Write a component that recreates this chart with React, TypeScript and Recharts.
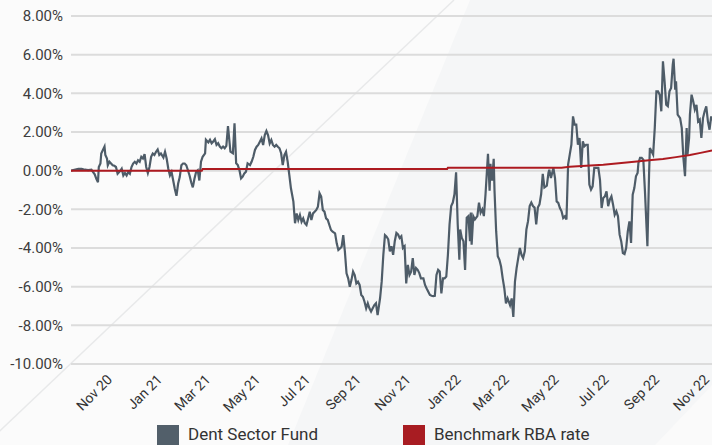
import { CartesianGrid, Line, LineChart, XAxis, YAxis } from "recharts";

// day 0 = 11 Sep 2020, values are cumulative % return
const START = Date.UTC(2020, 8, 11);
const DAY_MS = 86400000;
const LAST_DAY = 784;

const FUND_DAYS = [
  0, 4, 9, 13, 17, 21, 25, 27, 29, 31, 33, 34, 36, 37, 39, 41, 42, 44, 45, 47, 49, 51, 53, 55, 57, 60, 62, 64, 66, 68,
  70, 72, 74, 76, 78, 80, 82, 84, 86, 88, 90, 92, 94, 96, 98, 100, 102, 104, 106, 108, 110, 113, 115, 117, 119, 121,
  123, 125, 127, 129, 131, 133, 135, 137, 139, 141, 143, 145, 147, 149, 151, 153, 155, 157, 159, 161, 164, 165, 168,
  170, 172, 174, 176, 178, 180, 182, 184, 186, 188, 190, 192, 195, 198, 200, 202, 204, 206, 208, 210, 212, 214, 216,
  219, 221, 223, 225, 227, 229, 231, 233, 235, 237, 239, 241, 243, 245, 247, 249, 251, 253, 255, 257, 259, 261, 263,
  265, 267, 269, 272, 274, 276, 278, 280, 282, 284, 286, 288, 290, 292, 294, 296, 298, 300, 302, 304, 306, 308, 310,
  312, 314, 316, 318, 320, 323, 325, 327, 329, 331, 333, 335, 337, 339, 341, 343, 345, 347, 349, 351, 353, 355, 357,
  359, 361, 363, 365, 367, 369, 371, 373, 375, 378, 380, 382, 384, 386, 388, 390, 392, 394, 396, 398, 400, 402, 404,
  406, 408, 410, 412, 414, 416, 418, 420, 422, 424, 426, 428, 431, 433, 435, 437, 439, 441, 443, 445, 447, 449, 451,
  453, 455, 457, 459, 461, 463, 465, 467, 469, 471, 473, 475, 476, 478, 480, 482, 484, 486, 488, 489, 490, 492, 494,
  497, 499, 501, 503, 505, 507, 509, 510, 512, 513, 515, 517, 518, 520, 522, 524, 526, 528, 530, 532, 534, 537, 539,
  541, 543, 545, 547, 549, 551, 553, 555, 557, 559, 561, 563, 565, 567, 569, 571, 573, 575, 577, 579, 582, 584, 585,
  587, 590, 592, 594, 596, 598, 600, 602, 604, 606, 608, 610, 612, 614, 616, 618, 620, 622, 624, 626, 628, 630, 632,
  634, 636, 638, 640, 642, 645, 647, 649, 651, 653, 655, 657, 659, 661, 663, 665, 667, 669, 671, 673, 675, 677, 679,
  681, 683, 685, 687, 689, 691, 693, 694, 696, 698, 700, 702, 704, 705, 707, 708, 710, 712, 714, 716, 718, 720, 722,
  724, 726, 728, 730, 732, 734, 736, 737, 739, 740, 742, 745, 747, 749, 751, 753, 754, 756, 757, 759, 761, 763, 765,
  767, 769, 771, 773, 775, 777, 779, 781, 783, 784,
];

const FUND = [
  0, 0.05, 0.09, 0.09, 0.05, 0.03, 0.05, -0.07, -0.19, -0.42, -0.6, 0.19, 0.37, 0.89, 1.07, 1.25, 0.81, 0.63, 0.28,
  0.46, 0.37, 0.28, 0.25, 0.19, -0.16, -0.02, 0.1, -0.25, -0.12, -0.25, -0.07, -0.16, 0.19, 0.37, 0.46, 0.37, 0.54,
  0.46, 0.72, 0.63, 0.86, 0.19, -0.12, 0.19, 0.72, 0.89, 0.81, 0.98, 1.1, 0.81, 0.89, 0.68, 0.98, 0.63, 0.1, -0.25,
  -0.07, -0.51, -0.95, -1.3, -0.68, -0.33, 0.28, 0.37, 0.37, 0.28, 0.02, -0.25, -0.6, -0.86, -0.42, -0.07, 0.02, -0.51,
  0.46, 0.72, 0.89, 1.6, 1.46, 1.6, 1.42, 1.51, 1.63, 1.33, 1.42, 1.25, 1.16, 1.25, 1.16, 1.28, 2.3, 0.98, 0.9, 2.45,
  0.38, 0.29, 0.03, -0.4, -0.31, -0.14, -0.05, 0.38, 0.29, 0.47, 0.72, 1.07, 1.24, 1.33, 1.5, 1.67, 1.33, 1.84, 2.05,
  1.84, 1.41, 1.59, 1.33, 1.24, 1.33, 1.24, 1.16, 0.9, 0.29, 0.81, 0.98, 0.47, -0.22, -0.91, -1.6, -2.72, -2.21, -2.55,
  -2.29, -2.64, -2.47, -2.72, -2.81, -2.47, -2.12, -2.55, -2.21, -2.12, -2.03, -1.86, -1.17, -1.34, -2.03, -2.12,
  -2.47, -2.55, -2.81, -3.07, -3.16, -3.24, -3.76, -4.1, -4.02, -3.93, -3.33, -4.19, -5.31, -5.57, -6.0, -5.66, -5.22,
  -5.4, -5.83, -5.74, -5.91, -6.43, -6.52, -6.78, -7.12, -6.86, -7.12, -7.29, -7.12, -6.95, -6.86, -7.47, -6.6, -5.74,
  -4.36, -3.33, -3.41, -3.55, -4.17, -3.91, -4.35, -3.65, -3.22, -3.3, -3.48, -3.39, -4.0, -3.91, -5.83, -4.87, -5.39,
  -5.22, -4.52, -5.39, -5.04, -5.13, -5.3, -5.57, -5.57, -5.91, -6.09, -6.26, -6.43, -6.47, -6.49, -6.47, -5.39,
  -5.13, -5.22, -6.35, -5.57, -5.57, -5.48, -4.35, -2.78, -1.83, -1.65, -1.22, -0.09, -2.78, -4.61, -3.04, -3.48,
  -3.65, -5.13, -2.43, -2.35, -3.65, -2.17, -3.83, -2.35, -2.52, -2.35, -1.65, -2.17, -2.0, -2.35, -1.22, 0.17, 0.87,
  -1.04, 0.35, -0.52, 0.61, -1.04, -3.13, -4.43, -4.61, -4.96, -5.57, -6.09, -6.87, -6.61, -6.96, -6.61, -7.57, -5.74,
  -5.04, -4.52, -4.0, -4.35, -4.52, -4.17, -3.04, -2.61, -1.83, -1.65, -1.83, -1.91, -2.78, -1.91, -1.74, -1.22,
  -0.17, -0.87, -0.78, -0.1, 0.05, -0.38, 0.14, -0.38, -1.59, -1.67, -1.93, -2.1, -2.45, -2.36, -2.53, 0.31, 0.83,
  1.34, 2.81, 2.38, 2.38, 1.34, 1.69, 0.14, 1.52, 1.26, 1.34, 1.34, -0.72, -0.98, -0.81, 0.14, 0.14, 0.14, -0.47,
  -1.93, -1.41, -1.33, -1.07, -1.84, -1.5, -1.33, -1.76, -2.28, -2.1, -2.36, -3.31, -3.66, -4.26, -4.31, -4.0, -3.14,
  -2.62, -3.74, -1.24, -0.9, -0.29, -0.12, 0.4, 0.66, 0.66, 0.57, -1.07, -2.97, -3.91, -0.21, 1.17, 1.0, 0.83, 2.21,
  4.1, 4.1, 3.93, 3.07, 5.66, 4.62, 3.41, 3.33, 4.1, 4.28, 5.48, 5.79, 4.19, 4.62, 2.9, 2.72, 2.21, 0.66, -0.29, 2.21,
  0.83, 1.69, 2.9, 3.93, 3.59, 3.16, 3.41, 2.55, 2.64, 1.69, 2.72, 3.07, 3.33, 2.55, 2.12, 2.81, 2.6,
];

const RBA_DAYS = [0, 160, 161, 460, 461, 600, 610, 630, 651, 670, 692, 710, 724, 740, 757, 770, 784];
const RBA = [0, 0, 0.08, 0.08, 0.15, 0.15, 0.2, 0.26, 0.31, 0.38, 0.47, 0.55, 0.6, 0.7, 0.81, 0.92, 1.04];

const Y_TICKS = [-10, -8, -6, -4, -2, 0, 2, 4, 6, 8];
const TICK_MONTHS = [
  "2020-11", "2021-01", "2021-03", "2021-05", "2021-07", "2021-09", "2021-11",
  "2022-01", "2022-03", "2022-05", "2022-07", "2022-09", "2022-11",
];
const MONTHS = ["Jan", "Feb", "Mar", "Apr", "May", "Jun", "Jul", "Aug", "Sep", "Oct", "Nov", "Dec"];

const FUND_COLOR = "#4e5c68";
const RBA_COLOR = "#ad1a20";
const FONT = "Roboto, sans-serif";

const fundData = FUND_DAYS.map((d, i) => ({ d, v: FUND[i] }));
const rbaData = RBA_DAYS.map((d, i) => ({ d, v: RBA[i] }));
const xTicks = TICK_MONTHS.map((m) => {
  const [y, mo] = m.split("-").map(Number);
  return (Date.UTC(y, mo - 1, 1) - START) / DAY_MS;
});

const formatDay = (d: number) => {
  const dt = new Date(START + d * DAY_MS);
  return `${MONTHS[dt.getUTCMonth()]} ${String(dt.getUTCFullYear()).slice(2)}`;
};

function DateTick({ x, payload }: any) {
  return (
    <g transform={`translate(${x - 3},${377})`}>
      <text transform="rotate(-45)" textAnchor="end" dy="0.35em" fill="#333" fontSize={14} fontFamily={FONT}>
        {formatDay(payload.value)}
      </text>
    </g>
  );
}

function Background() {
  return (
    <svg width={712} height={445} style={{ position: "absolute", left: 0, top: 0 }}>
      <rect x={0} y={0} width={712} height={445} fill="#f5f6f7" />
      <polygon points="0,0 470,0 288,445 0,445" fill="#fbfbfb" />
      <line x1={-15} y1={445} x2={454} y2={0} stroke="#e8e9ea" strokeWidth={1.5} />
      <polygon points="655,445 712,385 712,445" fill="#fafafa" />
    </svg>
  );
}

function LegendItem({ color, label, left, textLeft }: { color: string; label: string; left: number; textLeft: number }) {
  return (
    <>
      <div style={{ position: "absolute", left, top: 425, width: 22, height: 22, background: color }} />
      <div style={{ position: "absolute", left: textLeft, top: 423, fontSize: 17, color: "#333", fontFamily: FONT, lineHeight: "22px" }}>
        {label}
      </div>
    </>
  );
}

export default function App() {
  return (
    <div style={{ position: "absolute", left: 0, top: 0, width: 712, height: 445, overflow: "hidden" }}>
      <Background />
      <div style={{ position: "absolute", left: 0, top: 0 }}>
        <LineChart width={712} height={445} margin={{ top: 16, right: 0, bottom: 0, left: 0 }}>
          <CartesianGrid vertical={false} stroke="#dcdcdc" strokeWidth={2} />
          <XAxis
            dataKey="d"
            type="number"
            domain={[0, LAST_DAY]}
            allowDataOverflow
            ticks={xTicks}
            tick={<DateTick />}
            height={81}
            axisLine={false}
            tickLine={false}
            interval={0}
          />
          <YAxis
            type="number"
            domain={[-10, 8]}
            ticks={Y_TICKS}
            tickFormatter={(v: number) => `${v.toFixed(2)}%`}
            width={71}
            axisLine={false}
            tickLine={false}
            interval={0}
            tick={{ fill: "#3d3d3d", fontSize: 15, fontFamily: FONT }}
          />
          <Line
            data={fundData}
            dataKey="v"
            type="linear"
            stroke={FUND_COLOR}
            strokeWidth={2.2}
            dot={false}
            isAnimationActive={false}
          />
          <Line
            data={rbaData}
            dataKey="v"
            type="linear"
            stroke={RBA_COLOR}
            strokeWidth={2}
            dot={false}
            isAnimationActive={false}
          />
        </LineChart>
      </div>
      <LegendItem color="#525f6a" label="Dent Sector Fund" left={157} textLeft={188} />
      <LegendItem color="#a81c22" label="Benchmark RBA rate" left={403} textLeft={434} />
    </div>
  );
}
